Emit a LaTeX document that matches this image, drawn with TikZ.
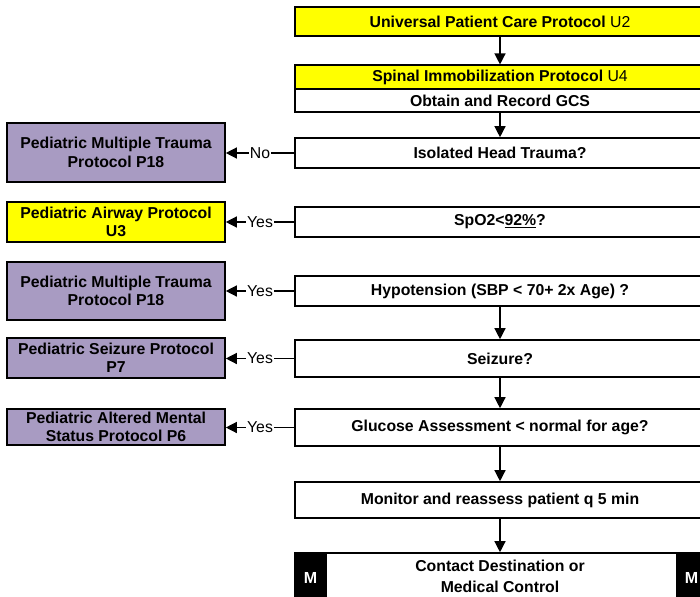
\documentclass[tikz,border=0pt]{standalone}
\usepackage{fontspec}
\setmainfont{Liberation Sans}
\usetikzlibrary{arrows.meta}
\definecolor{protoyellow}{RGB}{255,255,0}
\definecolor{protopurple}{RGB}{168,155,194}
\tikzset{
  base/.style={draw=black, line width=1.6pt, inner sep=0pt, align=center,
    font=\fontsize{15.8pt}{18.4pt}\selectfont\bfseries},
  flowbox/.style={base, fill=white, minimum width=410pt},
  refbox/.style={base, minimum width=218pt},
  yellowref/.style={refbox, fill=protoyellow},
  purpleref/.style={refbox, fill=protopurple},
  mbox/.style={draw=black, fill=black, text=white, line width=1pt,
    minimum width=31pt, minimum height=50pt, inner sep=0pt,
    font=\fontsize{16pt}{18pt}\selectfont\bfseries},
  arr/.style={line width=1.3pt, -{Triangle[length=11pt,width=11pt]}},
  lbl/.style={fill=white, inner sep=1pt, font=\fontsize{15.8pt}{18pt}\selectfont}
}
\begin{document}
\begin{tikzpicture}[x=1pt, y=-1pt]
\useasboundingbox (0,0) rectangle (700,596);
\clip (0,0) rectangle (700,596);

% main column
\node[flowbox, fill=protoyellow, minimum height=29pt] (u2) at (500,21.5)
  {Universal Patient Care Protocol \mdseries U2};
\node[flowbox, fill=protoyellow, minimum height=23.5pt] (u4) at (500,77)
  {Spinal Immobilization Protocol \mdseries U4};
\node[flowbox, minimum height=23.5pt] (gcs) at (500,100.5) {Obtain and Record GCS};
\node[flowbox, minimum height=30pt] (iht) at (500,153) {Isolated Head Trauma?};
\node[flowbox, minimum height=30pt] (spo) at (500,222) {SpO2<\underline{92\%}?};
\node[flowbox, minimum height=30pt] (hyp) at (500,291) {Hypotension (SBP < 70+ 2x Age) ?};
\node[flowbox, minimum height=37pt] (sei) at (500,358.5) {Seizure?};
\node[flowbox, minimum height=37pt] (glu) at (500,427.5) {Glucose Assessment < normal for age?};
\node[flowbox, minimum height=36pt] (mon) at (500,500) {Monitor and reassess patient q 5 min};
\node[flowbox, minimum height=46pt, font=\fontsize{15.8pt}{21pt}\selectfont\bfseries]
  (con) at (500,576) {Contact Destination or\\Medical Control};
\node[mbox] (ml) at (310.5,578) {M};
\node[mbox] (mr) at (691.5,578) {M};

% referral protocols
\node[purpleref, minimum height=59pt] (pmt1) at (116,152.5) {Pediatric Multiple Trauma\\Protocol P18};
\node[yellowref, minimum height=40pt] (paw) at (116,222) {Pediatric Airway Protocol\\U3};
\node[purpleref, minimum height=58pt] (pmt2) at (116,291) {Pediatric Multiple Trauma\\Protocol P18};
\node[purpleref, minimum height=40pt] (psz) at (116,358) {Pediatric Seizure Protocol\\P7};
\node[purpleref, minimum height=36pt] (pams) at (116,427) {Pediatric Altered Mental\\Status Protocol P6};

% vertical flow
\draw[arr] (u2) -- (u4);
\draw[arr] (gcs) -- (iht);
\draw[arr] (hyp) -- (sei);
\draw[arr] (sei) -- (glu);
\draw[arr] (glu) -- (mon);
\draw[arr] (mon) -- (con);

% branches to referral protocols
\draw[arr] (iht.west) -- node[lbl]{No} (iht.west -| pmt1.east);
\draw[arr] (spo.west) -- node[lbl]{Yes} (spo.west -| paw.east);
\draw[arr] (hyp.west) -- node[lbl]{Yes} (hyp.west -| pmt2.east);
\draw[arr] (sei.west) -- node[lbl]{Yes} (sei.west -| psz.east);
\draw[arr] (glu.west) -- node[lbl]{Yes} (glu.west -| pams.east);
\end{tikzpicture}
\end{document}
